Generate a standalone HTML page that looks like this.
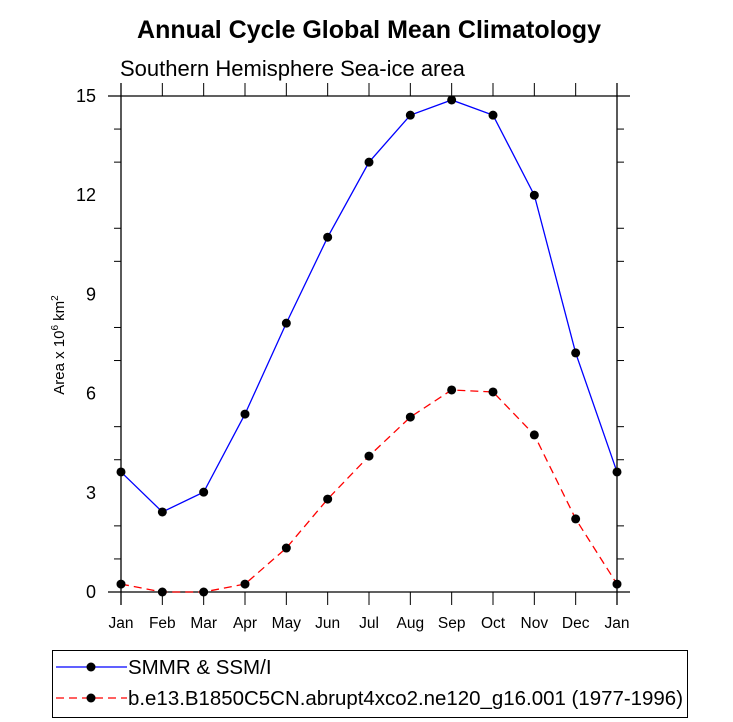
<!DOCTYPE html>
<html><head><meta charset="utf-8"><style>
body{margin:0;background:#fff}
svg{display:block;font-family:"Liberation Sans",Arial,sans-serif}
</style></head><body>
<svg id="chart" width="733" height="722" viewBox="0 0 733 722">
<text x="369" y="38" text-anchor="middle" font-size="25" font-weight="bold">Annual Cycle Global Mean Climatology</text>
<text x="120" y="76" font-size="22">Southern Hemisphere Sea-ice area</text>
<text transform="translate(64,345) rotate(-90)" text-anchor="middle" font-size="15">Area x 10<tspan dy="-6" font-size="10">6</tspan><tspan dy="6"> km</tspan><tspan dy="-6" font-size="10">2</tspan></text>
<g id="axes"></g>
<g id="series"></g>
<g>
<rect x="52.5" y="650.5" width="635" height="67" fill="none" stroke="#000" stroke-width="1"/>
<g>
<line x1="56" y1="667" x2="127" y2="667" stroke="#0000ff" stroke-width="1.2"/>
<circle cx="91" cy="667" r="4.5" fill="#000"/>
<text x="128" y="674" font-size="20.5">SMMR &amp; SSM/I</text>
</g>
<g>
<line x1="56" y1="698" x2="127" y2="698" stroke="#ff0000" stroke-width="1.2" stroke-dasharray="8,5"/>
<circle cx="91" cy="698" r="4.5" fill="#000"/>
<text x="128" y="705" font-size="20.5" textLength="555" lengthAdjust="spacingAndGlyphs">b.e13.B1850C5CN.abrupt4xco2.ne120_g16.001 (1977-1996)</text>
</g>
</g>
</svg>
<script>
const months = ["Jan","Feb","Mar","Apr","May","Jun","Jul","Aug","Sep","Oct","Nov","Dec","Jan"];
const obsValues = [3.63,2.42,3.02,5.38,8.13,10.73,13.0,14.42,14.88,14.42,12.0,7.23,3.63];
const modelValues = [0.24,0.0,0.0,0.24,1.33,2.81,4.11,5.29,6.11,6.05,4.75,2.21,0.24];
const yTicks = [0,3,6,9,12,15];

const NS="http://www.w3.org/2000/svg";
const x0=121,x1=617,y0=592,y1=96,ymax=15;
const xs=i=>x0+(x1-x0)*i/(months.length-1);
const ys=v=>y0-(y0-y1)*v/ymax;
function mk(tag,attrs,parent){const e=document.createElementNS(NS,tag);for(const k in attrs)e.setAttribute(k,attrs[k]);parent.appendChild(e);return e;}
const ax=document.getElementById('axes');
let l;
l=mk('line',{x1:108,y1:y0,x2:630,y2:y0,stroke:'#000','stroke-width':1.3},ax);


l=mk('line',{x1:108,y1:y1,x2:630,y2:y1,stroke:'#000','stroke-width':1.3},ax);


l=mk('line',{x1:x0,y1:83,x2:x0,y2:605,stroke:'#000','stroke-width':1.3},ax);


l=mk('line',{x1:x1,y1:83,x2:x1,y2:605,stroke:'#000','stroke-width':1.3},ax);


for(let v=0;v<=ymax;v++){
  const y=ys(v);
  if(!yTicks.includes(v)){
    mk('line',{x1:x0-7,y1:y,x2:x0,y2:y,stroke:'#000','stroke-width':1},ax);
    mk('line',{x1:x1,y1:y,x2:x1+7,y2:y,stroke:'#000','stroke-width':1},ax);
  }
}
yTicks.forEach(v=>{
  const t=mk('text',{x:96,y:ys(v)+6,'text-anchor':'end','font-size':18},ax);
  t.textContent=v;
  
  
});
months.forEach((m,i)=>{
  const x=xs(i);
  mk('line',{x1:x,y1:y0,x2:x,y2:605,stroke:'#000','stroke-width':1},ax);
  mk('line',{x1:x,y1:83,x2:x,y2:y1,stroke:'#000','stroke-width':1},ax);
  const t=mk('text',{x:x,y:628,'text-anchor':'middle','font-size':15.5},ax);
  t.textContent=m;
  
  
});
const sg=document.getElementById('series');
function drawSeries(vals,color,dash,name){
  const g=mk('g',{},sg);
  
  
  const pts=vals.map((v,i)=>xs(i)+','+ys(v)).join(' ');
  const a={points:pts,fill:'none',stroke:color,'stroke-width':1.3};
  if(dash)a['stroke-dasharray']=dash;
  mk('polyline',a,g);
  vals.forEach((v,i)=>{
    const c=mk('circle',{cx:xs(i),cy:ys(v),r:4.5,fill:'#000'},g);
    
    
  });
}
drawSeries(obsValues,'#0000ff',null,'smmr-line');
drawSeries(modelValues,'#ff0000','8,5','model-line');
</script>
</body></html>
